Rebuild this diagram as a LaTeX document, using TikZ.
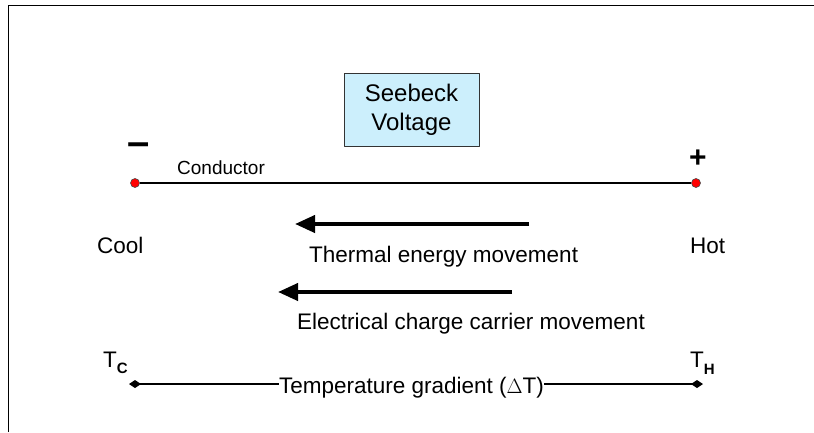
\documentclass[tikz,border=0pt]{standalone}
\usepackage{fontspec}
\setmainfont{Liberation Sans}
\usetikzlibrary{arrows.meta}
\tikzset{
  txt/.style={inner sep=0pt, anchor=base west, font=\fontsize{22.5}{26}\selectfont},
  dot/.style={circle, fill=red, draw=black!70, line width=0.6pt, inner sep=0pt, minimum size=9pt},
  flow/.style={line width=4pt, -{Triangle[length=20pt,width=17pt]}},
  grad/.style={line width=1.8pt},
  gtip/.tip={Diamond[length=12pt,width=8pt]}
}
\begin{document}
\begin{tikzpicture}[x=1pt, y=-1pt, line join=round]
	\useasboundingbox (0,0) rectangle (814,432);
	% frame
	\draw[line width=1.6pt] (8.5,432) -- (8.5,5.5) -- (814,5.5);
	% Seebeck box
	\node[draw=black!80, line width=1pt, fill=cyan!20, minimum width=135pt, minimum height=73pt,
	  align=center, font=\fontsize{24}{29}\selectfont] (box) at (411.5,109.5) {Seebeck\\Voltage};
	% conductor
	\node[dot] (cold) at (135,183) {};
	\node[dot] (hot) at (696,183) {};
	\draw[line width=2.2pt] (cold) -- (hot);
	\node[font=\fontsize{40}{40}\selectfont\bfseries, inner sep=0pt] (minus) at (139,149) {–};
	\node[font=\fontsize{30}{30}\selectfont\bfseries, inner sep=0pt] (plus) at (698,159) {+};
	\node[txt, font=\fontsize{19}{22}\selectfont] (cond) at (177,174) {Conductor};
	\node[txt] (cool) at (97,253) {Cool};
	\node[txt] (hotlbl) at (690,253) {Hot};
	% movements
	\path (529,224) coordinate (e1) (295,224) coordinate (s1)
	  (512,292) coordinate (e2) (278,292) coordinate (s2);
	\draw[flow] (e1) -- (s1);
	\draw[flow] (e2) -- (s2);
	\node[txt] (therm) at (309,262) {Thermal energy movement};
	\node[txt] (elec) at (297,329) {Electrical charge carrier movement};
	% temperature gradient
	\node[txt] (tc) at (103,367) {T\raisebox{-6pt}{\fontsize{15}{15}\selectfont\bfseries C}};
	\node[txt] (th) at (690,367) {T\raisebox{-7pt}{\fontsize{15}{15}\selectfont\bfseries H}};
	\node[txt, anchor=base] (gradtxt) at (411.5,393) {Temperature gradient (\(\Delta\)T)};
	\path (129,384) coordinate (gl) (703,384) coordinate (gr);
	\draw[grad, gtip-] (gl) -- (gradtxt.west |- gl);
	\draw[grad, -gtip] (gradtxt.east |- gr) -- (gr);
\end{tikzpicture}
\end{document}
